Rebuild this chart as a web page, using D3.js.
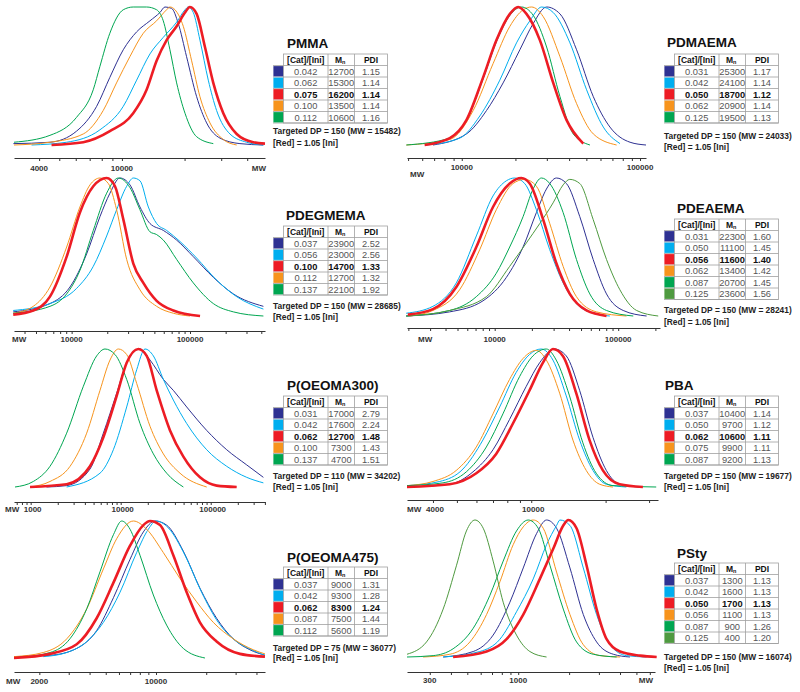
<!DOCTYPE html>
<html>
<head>
<meta charset="utf-8">
<script src="https://cdn.jsdelivr.net/npm/d3@7"></script>
<style>
  body { margin: 0; background: #fff; }
  svg { display: block; font-family: 'Liberation Sans', Arial, sans-serif; }
</style>
</head>
<body>
<div id="chart"></div>
<script>
const BLUE = '#2e3192', CYAN = '#00aeef', RED = '#ed1c24', ORANGE = '#f7941d', GREEN = '#00a651', OLIVE = '#4f9a40'

// ---- PMMA
const pmmaCat = ['0.042', '0.062', '0.075', '0.100', '0.112']
const pmmaMn = ['12700', '15300', '16200', '13500', '10600']
const pmmaPdi = ['1.15', '1.14', '1.14', '1.14', '1.16']
const pmmaCol = [BLUE, CYAN, RED, ORANGE, GREEN]
const pmmaCurves = [
  [[3010,0.01],[4510,0.02],[6050,0.1],[7560,0.28],[8750,0.49],[10150,0.69],[11770,0.82],[13640,0.9],[15230,0.96],[16100,1],[17330,0.99],[18660,0.88],[20450,0.64],[22860,0.35],[25530,0.16],[29580,0.05],[36900,0.01],[47800,0]],
  [[3680,0],[5420,0.02],[7840,0.11],[10150,0.28],[11770,0.47],[13640,0.66],[15800,0.78],[18320,0.89],[20100,0.98],[20840,1],[22030,0.96],[23710,0.76],[26000,0.47],[28510,0.25],[33040,0.08],[39720,0.02],[47800,0]],
  [[4590,0],[6520,0.02],[8750,0.1],[11330,0.23],[13140,0.4],[14680,0.61],[16400,0.76],[18320,0.86],[20100,0.96],[21230,1],[22860,0.95],[25060,0.71],[27480,0.45],[30700,0.23],[35600,0.08],[42760,0.02],[48700,0.01]],
  [[3030,0],[4510,0.02],[6520,0.08],[8130,0.25],[9420,0.45],[10920,0.64],[12670,0.81],[14680,0.9],[16400,0.98],[17010,1],[17990,0.98],[19720,0.86],[21630,0.61],[23710,0.35],[26490,0.16],[30700,0.04],[35600,0]],
  [[3030,0.02],[4510,0.07],[6050,0.2],[7280,0.4],[7840,0.57],[8750,0.81],[10150,0.98],[11330,1],[13140,1],[14680,0.98],[15800,0.9],[17010,0.69],[18320,0.45],[20100,0.23],[22860,0.06],[27480,0.01]]
]

// ---- PDMAEMA
const pdmaemaCat = ['0.031', '0.042', '0.050', '0.062', '0.125']
const pdmaemaMn = ['25300', '24100', '18700', '20900', '19500']
const pdmaemaPdi = ['1.17', '1.14', '1.12', '1.14', '1.13']
const pdmaemaCol = [BLUE, CYAN, RED, ORANGE, GREEN]
const pdmaemaCurves = [
  [[6900,0],[10620,0.08],[13770,0.25],[17060,0.45],[21180,0.69],[25160,0.88],[29920,1],[35560,0.95],[44060,0.69],[54700,0.35],[67800,0.13],[87900,0.02],[108000,0]],
  [[6330,0],[9750,0.05],[12620,0.21],[16350,0.47],[20280,0.74],[24100,0.9],[28050,1],[32590,0.96],[40440,0.74],[50150,0.4],[62230,0.13],[77200,0.01]],
  [[6190,0],[8570,0.05],[10620,0.18],[13180,0.49],[15660,0.76],[18620,0.95],[20700,1],[23070,0.95],[27420,0.76],[32590,0.45],[38730,0.18],[48050,0.01]],
  [[4890,0],[8570,0.04],[11590,0.25],[14990,0.59],[18620,0.86],[22120,0.98],[24620,1],[28640,0.93],[35560,0.64],[44060,0.3],[54700,0.08],[73900,0]],
  [[4890,0],[8570,0.05],[10620,0.18],[13180,0.48],[15660,0.75],[18620,0.94],[21630,1],[25160,0.94],[29920,0.71],[35560,0.35],[42200,0.08],[52360,0]]
]

// ---- PDEGMEMA
const pdegCat = ['0.037', '0.056', '0.100', '0.112', '0.137']
const pdegMn = ['23900', '23000', '14700', '12700', '22100']
const pdegPdi = ['2.52', '2.56', '1.33', '1.32', '1.92']
const pdegCol = [BLUE, CYAN, RED, ORANGE, GREEN]
const pdegCurves = [
  [[3210,0.03],[6560,0.09],[9680,0.21],[13390,0.45],[17350,0.72],[21080,0.89],[25600,1],[31110,0.95],[37780,0.79],[45920,0.67],[59550,0.62],[77110,0.55],[106600,0.43],[157400,0.28],[232300,0.16],[416800,0.07]],
  [[3210,0.04],[6560,0.09],[11020,0.2],[15240,0.36],[19770,0.58],[23990,0.77],[29170,0.94],[33200,1],[37780,0.98],[44460,0.79],[52270,0.67],[63500,0.62],[82260,0.54],[113800,0.42],[168000,0.26],[247900,0.14],[416800,0.05]],
  [[3210,0.01],[4740,0.04],[6560,0.14],[9080,0.43],[11750,0.75],[15240,0.94],[19770,1],[23240,0.94],[27330,0.7],[33200,0.38],[40340,0.24],[52270,0.11],[72310,0.04],[121600,0]],
  [[3210,0.02],[4740,0.07],[6560,0.21],[9080,0.5],[11750,0.79],[14290,0.95],[17350,1],[20420,0.96],[23990,0.77],[29170,0.41],[37780,0.19],[52270,0.07],[72310,0.02],[100000,0]],
  [[3210,0.02],[6560,0.07],[9080,0.16],[11750,0.33],[15240,0.62],[19770,0.89],[24790,1],[31110,0.93],[37780,0.77],[45920,0.61],[52270,0.59],[59550,0.55],[77110,0.41],[106600,0.24],[157400,0.09],[232300,0.03],[416800,0]]
]

// ---- PDEAEMA
const pdeaCat = ['0.031', '0.050', '0.056', '0.062', '0.087', '0.125']
const pdeaMn = ['22300', '11100', '11600', '13400', '20700', '23600']
const pdeaPdi = ['1.60', '1.45', '1.40', '1.42', '1.45', '1.56']
const pdeaCol = [BLUE, CYAN, RED, ORANGE, GREEN, OLIVE]
const pdeaCurves = [
  [[1920,0],[4320,0.03],[8040,0.11],[12440,0.28],[16980,0.5],[21770,0.75],[26240,0.92],[31620,1],[38110,0.96],[48870,0.72],[62670,0.41],[80390,0.16],[109800,0.04],[169800,0]],
  [[1920,0.02],[3160,0.07],[4890,0.24],[7100,0.58],[9690,0.87],[12440,0.98],[14520,1],[17500,0.96],[21770,0.77],[27920,0.48],[35810,0.24],[45920,0.09],[62670,0.02],[85560,0]],
  [[1980,0.01],[3160,0.05],[4890,0.21],[7100,0.5],[9690,0.79],[13230,0.96],[16450,1],[19220,0.96],[24660,0.7],[31620,0.38],[40550,0.16],[55340,0.04],[80390,0]],
  [[2050,0],[3160,0.04],[5200,0.19],[7560,0.48],[10310,0.77],[14080,0.96],[17500,0.99],[21770,0.94],[27920,0.67],[35810,0.36],[45920,0.14],[66690,0.03],[116900,0]],
  [[1920,0],[4320,0.04],[7100,0.14],[10310,0.31],[13230,0.5],[16980,0.72],[20460,0.92],[23880,1],[27920,0.96],[35810,0.75],[45920,0.41],[58890,0.16],[80390,0.04],[132400,0]],
  [[1920,0],[4320,0.04],[8560,0.14],[13230,0.36],[18070,0.53],[23170,0.67],[29710,0.82],[35810,0.95],[40550,0.99],[48870,0.96],[62670,0.7],[80390,0.41],[103200,0.19],[140900,0.04],[210900,0]]
]

// ---- P(OEOMA300)
const oe300Cat = ['0.031', '0.042', '0.062', '0.100', '0.137']
const oe300Mn = ['17000', '17600', '12700', '7300', '4700']
const oe300Pdi = ['2.79', '2.24', '1.48', '1.43', '1.51']
const oe300Col = [BLUE, CYAN, RED, ORANGE, GREEN]
const oe300Curves = [
  [[1500,0],[2510,0.01],[4560,0.13],[6420,0.39],[9030,0.68],[11660,0.9],[16400,1],[21180,0.92],[29790,0.78],[38460,0.7],[54110,0.58],[90260,0.41],[150600,0.27],[251200,0.16],[384600,0.07]],
  [[2510,0],[5890,0.1],[8290,0.27],[11660,0.58],[15070,0.85],[18630,1],[23070,0.95],[29790,0.78],[38460,0.63],[54110,0.46],[90260,0.27],[150600,0.15],[251200,0.07],[384600,0.03]],
  [[984,0],[2510,0.02],[4560,0.15],[6420,0.36],[9030,0.66],[11660,0.9],[15710,1],[19450,0.95],[25120,0.7],[35320,0.41],[49690,0.22],[76050,0.07],[116600,0.01],[194400,0]],
  [[984,0],[1640,0.04],[2740,0.15],[4190,0.39],[5890,0.7],[7610,0.92],[9420,1],[11660,0.96],[15070,0.75],[21180,0.44],[29790,0.24],[45620,0.1],[90260,0]],
  [[670,0],[1070,0.04],[1640,0.15],[2510,0.39],[3850,0.73],[5410,0.95],[6700,1],[8650,0.96],[11660,0.78],[16400,0.46],[23070,0.24],[32430,0.1],[49690,0]]
]

// ---- PBA
const pbaCat = ['0.037', '0.050', '0.062', '0.075', '0.087']
const pbaMn = ['10400', '9700', '10600', '9900', '9200']
const pbaPdi = ['1.14', '1.12', '1.11', '1.11', '1.13']
const pbaCol = [BLUE, CYAN, RED, ORANGE, GREEN]
const pbaCurves = [
  [[3140,0],[4670,0.02],[5810,0.11],[7000,0.27],[8170,0.49],[9550,0.73],[10810,0.9],[12420,1],[13860,0.95],[15700,0.7],[17780,0.36],[20140,0.12],[22790,0.02],[27470,0]],
  [[3140,0.01],[4260,0.04],[5290,0.13],[6370,0.34],[7450,0.58],[8690,0.83],[9840,0.96],[10970,1],[12240,0.92],[13860,0.66],[15700,0.34],[17780,0.12],[20140,0.02],[24250,0]],
  [[3140,0],[4670,0.02],[5990,0.1],[7210,0.24],[8430,0.46],[9840,0.7],[11140,0.9],[12240,1],[13430,0.95],[15210,0.68],[17220,0.34],[19500,0.12],[22790,0.02],[28320,0]],
  [[3140,0.01],[4000,0.04],[4970,0.12],[5990,0.29],[7000,0.53],[8170,0.78],[9250,0.93],[10480,0.99],[11510,0.92],[13030,0.68],[14750,0.34],[16700,0.12],[18920,0.02],[21420,0]],
  [[3140,0.01],[4390,0.03],[5460,0.11],[6580,0.29],[7680,0.53],[8970,0.8],[10160,0.95],[11510,1],[12620,0.92],[14290,0.66],[16180,0.32],[18320,0.1],[21420,0.01],[32060,0]]
]

// ---- P(OEOMA475)
const oe475Cat = ['0.037', '0.042', '0.062', '0.087', '0.112']
const oe475Mn = ['9000', '9300', '8300', '7500', '5600']
const oe475Pdi = ['1.31', '1.28', '1.24', '1.44', '1.19']
const oe475Col = [BLUE, CYAN, RED, ORANGE, GREEN]
const oe475Curves = [
  [[1410,0.01],[2320,0.02],[3350,0.07],[4410,0.2],[5560,0.44],[6990,0.72],[8400,0.92],[9860,1],[11580,0.97],[14580,0.78],[18330,0.51],[23080,0.29],[29040,0.14],[36560,0.06],[44970,0.02]],
  [[2110,0.01],[2920,0.04],[3850,0.12],[4840,0.26],[6090,0.48],[7660,0.77],[9000,0.94],[10000,1],[11850,0.95],[14920,0.75],[18760,0.48],[23620,0.26],[29720,0.13],[37410,0.06],[44970,0.02]],
  [[1410,0],[2320,0.03],[3350,0.1],[4410,0.29],[5560,0.55],[6990,0.82],[8400,0.97],[9210,1],[10570,0.97],[12700,0.75],[15270,0.48],[18330,0.26],[23080,0.12],[31840,0.03],[44970,0.01]],
  [[1410,0.01],[2110,0.04],[2920,0.14],[3850,0.36],[4840,0.65],[5810,0.87],[7320,1],[8790,0.94],[11060,0.77],[13930,0.58],[17520,0.41],[22050,0.26],[29040,0.14],[38280,0.06],[44970,0.03]],
  [[1410,0],[2320,0.04],[3050,0.14],[3850,0.36],[4620,0.63],[5560,0.9],[6230,1],[6990,0.94],[8020,0.75],[9640,0.46],[11580,0.24],[14580,0.07],[19650,0]]
]

// ---- PSty
const pstyCat = ['0.037', '0.042', '0.050', '0.056', '0.087', '0.125']
const pstyMn = ['1300', '1600', '1700', '1100', '900', '400']
const pstyPdi = ['1.13', '1.13', '1.13', '1.13', '1.26', '1.20']
const pstyCol = [BLUE, CYAN, RED, ORANGE, GREEN, OLIVE]
const pstyCurves = [
  [[360,0],[542,0.04],[711,0.16],[893,0.4],[1071,0.65],[1283,0.9],[1471,1],[1686,0.94],[2023,0.65],[2426,0.31],[2908,0.11],[3650,0.02],[4579,0]],
  [[360,0],[593,0.04],[780,0.13],[977,0.33],[1227,0.57],[1471,0.82],[1686,0.96],[1765,1],[2023,0.96],[2426,0.65],[2908,0.31],[3488,0.09],[4375,0.01],[5745,0]],
  [[412,0],[650,0.04],[853,0.13],[1071,0.31],[1343,0.57],[1611,0.79],[1847,0.96],[1977,1],[2213,0.94],[2535,0.67],[2908,0.35],[3333,0.13],[3997,0.04],[5250,0.01],[6590,0]],
  [[274,0],[394,0.02],[518,0.11],[650,0.31],[780,0.55],[934,0.82],[1071,0.95],[1227,1],[1406,0.94],[1686,0.62],[2023,0.31],[2426,0.09],[3043,0.01],[3997,0]],
  [[220,0],[314,0.01],[412,0.06],[542,0.21],[680,0.45],[815,0.7],[977,0.92],[1146,1],[1313,0.94],[1540,0.67],[1847,0.35],[2213,0.11],[2779,0.02],[3820,0]],
  [[220,0.02],[287,0.11],[360,0.35],[432,0.67],[494,0.92],[555,1],[621,0.94],[711,0.7],[815,0.4],[977,0.16],[1172,0.04],[1471,0]]
]

const panels = [
  { title: 'PMMA', cat: pmmaCat, mn: pmmaMn, pdi: pmmaPdi, col: pmmaCol, curves: pmmaCurves, dp: '150', mw: '15482',
    x0: 14, x1: 265, dom: [3030, 48700], top: 7, base: 145, axisY: 158, labels: [4000, 10000], labY: 171, labDx: 0,
    mwX: 266, mwY: 171, mwA: 'end', tx: 273, ttlX: 287, ttlY: 48, tabY: 54, n1: 134, n2: 146 },
  { title: 'PDMAEMA', cat: pdmaemaCat, mn: pdmaemaMn, pdi: pdmaemaPdi, col: pdmaemaCol, curves: pdmaemaCurves, dp: '150', mw: '24033',
    x0: 407, x1: 646, dom: [4930, 108000], top: 7, base: 145, axisY: 158, labels: [10000, 100000], labY: 170, labDx: 0,
    mwX: 410, mwY: 177, mwA: 'start', tx: 664, ttlX: 667, ttlY: 47, tabY: 54, n1: 139, n2: 150 },
  { title: 'PDEGMEMA', cat: pdegCat, mn: pdegMn, pdi: pdegPdi, col: pdegCol, curves: pdegCurves, dp: '150', mw: '28685',
    x0: 14, x1: 265, dom: [3260, 430000], top: 178, base: 316, axisY: 331, labels: [10000, 100000], labY: 342, labDx: 0,
    mwX: 12, mwY: 342, mwA: 'start', tx: 273, ttlX: 286, ttlY: 220, tabY: 226, n1: 309, n2: 320 },
  { title: 'PDEAEMA', cat: pdeaCat, mn: pdeaMn, pdi: pdeaPdi, col: pdeaCol, curves: pdeaCurves, dp: '150', mw: '28241',
    x0: 407, x1: 660, dom: [1950, 218000], top: 178, base: 316, axisY: 328, labels: [10000, 100000], labY: 342, labDx: 0,
    mwX: 418, mwY: 342, mwA: 'start', tx: 664, ttlX: 677, ttlY: 213, tabY: 219, n1: 313, n2: 325 },
  { title: 'P(OEOMA300)', cat: oe300Cat, mn: oe300Mn, pdi: oe300Pdi, col: oe300Col, curves: oe300Curves, dp: '110', mw: '34202',
    x0: 14, x1: 265, dom: [653, 401000], top: 349, base: 487, axisY: 502, labels: [1000, 10000, 100000], labY: 512, labDx: 2,
    mwX: 5, mwY: 512, mwA: 'start', tx: 273, ttlX: 287, ttlY: 390, tabY: 396, n1: 479, n2: 490 },
  { title: 'PBA', cat: pbaCat, mn: pbaMn, pdi: pbaPdi, col: pbaCol, curves: pbaCurves, dp: '150', mw: '19677',
    x0: 407, x1: 658, dom: [3140, 32600], top: 349, base: 487, axisY: 500, labels: [4000, 10000], labY: 512, labDx: 2,
    mwX: 407, mwY: 512, mwA: 'start', tx: 664, ttlX: 665, ttlY: 390, tabY: 396, n1: 479, n2: 490 },
  { title: 'P(OEOMA475)', cat: oe475Cat, mn: oe475Mn, pdi: oe475Pdi, col: oe475Col, curves: oe475Curves, dp: '75', mw: '36077',
    x0: 14, x1: 265, dom: [1410, 45000], top: 521, base: 658, axisY: 672, labels: [2000, 10000], labY: 684, labDx: 0,
    mwX: 6, mwY: 684, mwA: 'start', tx: 273, ttlX: 287, ttlY: 562, tabY: 567, n1: 651, n2: 661 },
  { title: 'PSty', cat: pstyCat, mn: pstyMn, pdi: pstyPdi, col: pstyCol, curves: pstyCurves, dp: '150', mw: '16074',
    x0: 407, x1: 655, dom: [220, 6440], top: 520, base: 657, axisY: 672, labels: [300, 1000], labY: 683, labDx: 0,
    mwX: 653, mwY: 683, mwA: 'end', tx: 664, ttlX: 677, ttlY: 558, tabY: 563, n1: 660, n2: 671 }
]

const svg = d3.select('#chart').append('svg').attr('width', 800).attr('height', 692)

const colW = [10.5, 44.5, 26.5, 33]
const hdrH = 11.5, rowH = 11.5

panels.forEach((p) => {
  const g = svg.append('g')
  const x = d3.scaleLog().domain(p.dom).range([p.x0, p.x1])
  const y = d3.scaleLinear().domain([0, 1]).range([p.base, p.top])

  // log ticks 1..9 x 10^k
  const ticks = []
  for (let e = 2; e <= 5; e++)
    for (let m = 1; m < 10; m++) {
      const v = m * Math.pow(10, e)
      if (v >= p.dom[0] && v <= p.dom[1]) ticks.push(v)
    }
  const ax = g.append('g')
    .attr('transform', `translate(0,${p.axisY})`)
    .attr('color', '#333')
    .call(d3.axisBottom(x).tickValues(ticks).tickSize(3).tickSizeOuter(0).tickFormat(() => ''))
  ax.select('.domain').attr('stroke-width', 1)

  p.labels.forEach((v) => {
    g.append('text').attr('x', x(v) + p.labDx).attr('y', p.labY).attr('text-anchor', 'middle')
      .attr('font-size', 8).attr('font-weight', 'bold').attr('fill', '#333').text(v)
  })
  g.append('text').attr('x', p.mwX).attr('y', p.mwY).attr('text-anchor', p.mwA)
    .attr('font-size', 8).attr('font-weight', 'bold').attr('fill', '#333').text('MW')

  // curves, red drawn last
  const line = d3.line().x((d) => x(d[0])).y((d) => y(d[1])).curve(d3.curveMonotoneX)
  const order = d3.range(p.curves.length).filter((i) => i !== 2).concat([2])
  order.forEach((i) => {
    g.append('path').attr('d', line(p.curves[i])).attr('fill', 'none')
      .attr('stroke', p.col[i]).attr('stroke-width', i === 2 ? 2.6 : 1)
      .attr('stroke-linejoin', 'round')
  })

  // title
  g.append('text').attr('x', p.ttlX).attr('y', p.ttlY).attr('font-size', 13.5)
    .attr('font-weight', 'bold').attr('fill', '#111').text(p.title)

  // table
  const cx = [p.tx]
  colW.forEach((w, i) => cx.push(cx[i] + w))
  const n = p.cat.length
  const bottom = p.tabY + hdrH + n * rowH
  const grid = g.append('g').attr('stroke', '#a0a0a0').attr('stroke-width', 0.8)
  grid.append('rect').attr('x', cx[1]).attr('y', p.tabY).attr('width', cx[4] - cx[1])
    .attr('height', bottom - p.tabY).attr('fill', 'none')
  for (let r = 0; r <= n; r++) {
    const yy = p.tabY + hdrH + r * rowH
    grid.append('line').attr('x1', cx[0]).attr('x2', cx[4]).attr('y1', yy).attr('y2', yy)
  }
  ;[2, 3].forEach((c) => grid.append('line').attr('x1', cx[c]).attr('x2', cx[c]).attr('y1', p.tabY).attr('y2', bottom))

  const hy = p.tabY + hdrH - 3
  g.append('text').attr('x', (cx[1] + cx[2]) / 2).attr('y', hy).attr('text-anchor', 'middle')
    .attr('font-size', 8.5).attr('font-weight', 'bold').attr('fill', '#111').text('[Cat]/[Ini]')
  const mnT = g.append('text').attr('x', (cx[2] + cx[3]) / 2 - 1).attr('y', hy).attr('text-anchor', 'middle')
    .attr('font-size', 8.5).attr('font-weight', 'bold').attr('fill', '#111')
  mnT.append('tspan').text('M')
  mnT.append('tspan').attr('font-size', 5.5).attr('dy', 1.5).text('n')
  g.append('text').attr('x', (cx[3] + cx[4]) / 2).attr('y', hy).attr('text-anchor', 'middle')
    .attr('font-size', 8.5).attr('font-weight', 'bold').attr('fill', '#111').text('PDI')

  p.cat.forEach((c, i) => {
    const ry = p.tabY + hdrH + i * rowH
    g.append('rect').attr('x', cx[0] + 0.4).attr('y', ry + 0.6).attr('width', colW[0] - 0.8)
      .attr('height', rowH - 1.2).attr('fill', p.col[i])
    const bold = i === 2
    const vals = [c, p.mn[i], p.pdi[i]]
    vals.forEach((v, k) => {
      g.append('text').attr('x', (cx[k + 1] + cx[k + 2]) / 2).attr('y', ry + rowH - 2.4)
        .attr('text-anchor', 'middle').attr('font-size', 9.3)
        .attr('font-weight', bold ? 'bold' : 'normal').attr('fill', bold ? '#111' : '#555').text(v)
    })
  })

  g.append('text').attr('x', p.tx).attr('y', p.n1).attr('font-size', 8.4).attr('font-weight', 'bold')
    .attr('fill', '#222').text(`Targeted DP = ${p.dp} (MW = ${p.mw})`)
  g.append('text').attr('x', p.tx).attr('y', p.n2).attr('font-size', 8.4).attr('font-weight', 'bold')
    .attr('fill', '#222').text('[Red] = 1.05 [Ini]')
})
</script>
</body>
</html>
